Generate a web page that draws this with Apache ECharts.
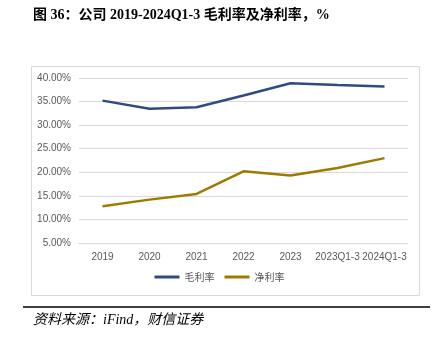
<!DOCTYPE html>
<html><head><meta charset="utf-8">
<script src="https://cdn.jsdelivr.net/npm/echarts@6/dist/echarts.min.js"></script>
<style>html,body{margin:0;padding:0;background:#fff}#c{width:439px;height:339px}</style>
</head><body><div id="c"></div>
<script>
const categories = ['2019','2020','2021','2022','2023','2023Q1-3','2024Q1-3'];
const grossMargin = [35.2, 33.5, 33.8, 36.3, 38.9, 38.5, 38.2];
const netMargin = [12.8, 14.2, 15.4, 20.2, 19.3, 20.9, 23.0];
const yTicks = {min: 5, max: 40, interval: 5};

const chart = echarts.init(document.getElementById('c'));
chart.setOption({
  animation: false,
  backgroundColor: '#fff',
  graphic: [
    {type:'text', left: 33, top: 8, style:{text:'图 36：公司 2019-2024Q1-3 毛利率及净利率，%', font:'bold 14px "Liberation Serif", "Noto Sans CJK SC"', fill:'#000'}},
    {type:'rect', shape:{x:31.5, y:66.5, width:388, height:229}, style:{fill:'none', stroke:'#d9d9d9', lineWidth:1}},
    {type:'rect', shape:{x:23, y:306, width:407, height:2}, style:{fill:'#404040'}},
    {type:'text', left: 33, top: 313, style:{text:'资料来源：iFind，财信证券', font:'italic 14px "Liberation Serif", "Noto Sans CJK SC"', fill:'#000'}}
  ],
  legend: {
    bottom: 52, left: 'center',
    itemWidth: 25, itemHeight: 3, itemGap: 10,
    icon: 'rect',
    textStyle: {color:'#595959', fontSize: 10, fontFamily:'"Noto Sans CJK SC"'},
    data: ['毛利率','净利率']
  },
  grid: {left: 79, right: 31, top: 78, bottom: 96},
  xAxis: {
    type: 'category', data: categories, boundaryGap: true,
    axisLine: {lineStyle:{color:'#d9d9d9'}},
    axisTick: {show:false},
    axisLabel: {color:'#595959', fontSize: 10, margin: 9, interval: 0}
  },
  yAxis: {
    type: 'value', min: yTicks.min, max: yTicks.max, interval: yTicks.interval,
    axisLine: {show:false}, axisTick: {show:false},
    splitLine: {lineStyle:{color:'#d9d9d9'}},
    axisLabel: {color:'#595959', fontSize: 10, formatter: v => v.toFixed(2) + '%'}
  },
  series: [
    {name:'毛利率', type:'line', data: grossMargin, symbol:'none', lineStyle:{color:'#2E4B82', width:2.5}, itemStyle:{color:'#2E4B82'}},
    {name:'净利率', type:'line', data: netMargin, symbol:'none', lineStyle:{color:'#9E7B00', width:2.5}, itemStyle:{color:'#9E7B00'}}
  ]
});
</script></body></html>
